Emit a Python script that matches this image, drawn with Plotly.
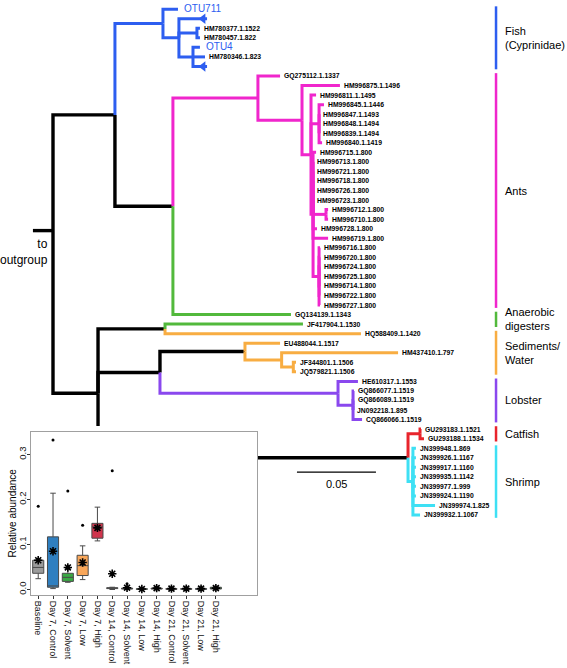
import plotly.graph_objects as go

# ---------------- tree data (depth = substitutions/site from root) ----------------
COLORS = {"k": "#000000", "f": "#2d5ef0", "a": "#f026cc", "g": "#52b93c",
          "o": "#f8ad42", "p": "#8a48ee", "r": "#e8242c", "c": "#3ee0f4"}


def node(d, c, *kids):
    return {"d": d, "c": c, "kids": list(kids)}


def tip(label, d, c, style="tip"):
    return {"d": d, "c": c, "label": label, "style": style, "kids": []}


fish_clade = node(0.0696, "f",
                  tip("OTU711", 0.0791, "f", "otu"),
                  node(0.0797, "f",
                       tip("", 0.0975, "f", "tri"),
                       node(0.0911, "f", tip("HM780377.1.1522", 0.0930, "f"),
                            tip("HM780457.1.822", 0.0930, "f")),
                       node(0.0886, "f", tip("OTU4", 0.0930, "f", "otu"),
                            tip("HM780346.1.823", 0.0962, "f"),
                            tip("", 0.0975, "f", "tri"))))

ants_clade = node(0.1297, "a",
                  tip("GQ275112.1.1337", 0.1437, "a"),
                  node(0.1576, "a",
                       tip("HM996875.1.1496", 0.1816, "a"),
                       node(0.1633, "a",
                            tip("HM996811.1.1495", 0.1665, "a"),
                            node(0.1684, "a",
                                 tip("HM996845.1.1446", 0.1715, "a"),
                                 tip("HM996847.1.1493", 0.1684, "a"),
                                 tip("HM996848.1.1494", 0.1684, "a"),
                                 tip("HM996839.1.1494", 0.1684, "a"),
                                 tip("HM996840.1.1419", 0.1703, "a")),
                            node(0.1646, "a",
                                 tip("HM996715.1.800", 0.1665, "a"),
                                 tip("HM996713.1.800", 0.1646, "a"),
                                 tip("HM996721.1.800", 0.1646, "a"),
                                 tip("HM996718.1.800", 0.1646, "a"),
                                 tip("HM996726.1.800", 0.1646, "a"),
                                 tip("HM996723.1.800", 0.1646, "a"),
                                 node(0.1728, "a", tip("HM996712.1.800", 0.1741, "a"),
                                      tip("HM996710.1.800", 0.1741, "a")),
                                 tip("HM996728.1.800", 0.1671, "a"),
                                 tip("HM996719.1.800", 0.1741, "a"),
                                 node(0.1684, "a",
                                      tip("HM996716.1.800", 0.1690, "a"),
                                      tip("HM996720.1.800", 0.1690, "a"),
                                      tip("HM996724.1.800", 0.1690, "a"),
                                      tip("HM996725.1.800", 0.1690, "a"),
                                      tip("HM996714.1.800", 0.1690, "a"),
                                      tip("HM996722.1.800", 0.1690, "a"),
                                      tip("HM996727.1.800", 0.1690, "a"))))))

anaerobic_tip = tip("GQ134139.1.1343", 0.1506, "g")

pair_clade = node(0.0709, "k", tip("JF417904.1.1530", 0.1582, "g"),
                  tip("HQ588409.1.1420", 0.1949, "o"))

sediment_clade = node(0.1215, "k",
                      tip("EU488044.1.1517", 0.1437, "o"),
                      node(0.1447, "o", tip("HM437410.1.797", 0.2184, "o"),
                           node(0.1521, "o", tip("JF344801.1.1506", 0.1538, "o"),
                                tip("JQ579821.1.1506", 0.1538, "o"))))

lobster_clade = node(0.1804, "p",
                     tip("HE610317.1.1553", 0.1930, "p"),
                     node(0.1899, "p", tip("GQ866077.1.1519", 0.1905, "p"),
                          tip("GQ866089.1.1519", 0.1905, "p"),
                          tip("JN092218.1.895", 0.1899, "p"),
                          tip("CQ866066.1.1519", 0.1956, "p")))

catfish_clade = node(0.2323, "r", tip("GU293183.1.1521", 0.2329, "r"),
                     tip("GU293188.1.1534", 0.2348, "r"))

shrimp_clade = node(0.2278, "c",
                    tip("JN399948.1.869", 0.2297, "c"),
                    tip("JN399926.1.1167", 0.2297, "c"),
                    tip("JN399917.1.1160", 0.2297, "c"),
                    tip("JN399935.1.1142", 0.2297, "c"),
                    tip("JN399977.1.999", 0.2297, "c"),
                    tip("JN399924.1.1190", 0.2297, "c"),
                    tip("JN399974.1.825", 0.2418, "c"),
                    tip("JN399932.1.1067", 0.2323, "c"))

upper = node(0.0392, "k", fish_clade, node(0.0759, "k", ants_clade, anaerobic_tip))
lower = node(0.0285, "k", pair_clade,
             node(0.0677, "k", sediment_clade, lobster_clade),
             node(0.2247, "k", catfish_clade, shrimp_clade))
root = node(0.0, "k", upper, lower)
outgroup_depth = -0.0127
outgroup_row = 23.2
scale_bar = 0.05

clade_names = ["Fish<br>(Cyprinidae)", "Ants", "Anaerobic<br>digesters",
               "Sediments/<br>Water", "Lobster", "Catfish", "Shrimp"]
clade_colors = ["f", "a", "g", "o", "p", "r", "c"]
clade_sizes = [7, 25, 2, 5, 5, 2, 8]

# ---------------- inset boxplot data ----------------
groups = ["Baseline", "Day 7, Control", "Day 7, Solvent", "Day 7, Low", "Day 7, High",
          "Day 14, Control", "Day 14, Solvent", "Day 14, Low", "Day 14, High",
          "Day 21, Control", "Day 21, Solvent", "Day 21, Low", "Day 21, High"]
box_colors = ["#9b9b9b", "#2f7fc0", "#3aa844", "#f9a75a", "#d0344c",
              "#9b9b9b", "#2f7fc0", "#3aa844", "#f9a75a", "#d0344c",
              "#9b9b9b", "#2f7fc0", "#3aa844"]
q1 = [0.036, 0.005, 0.018, 0.031, 0.114, 0.002, 0.001, 0.0005, 0.001, 0.0005, 0.0005, 0.0005, 0.001]
median = [0.049, 0.008, 0.027, 0.053, 0.139, 0.003, 0.002, 0.001, 0.002, 0.001, 0.001, 0.001, 0.002]
q3 = [0.065, 0.117, 0.036, 0.076, 0.147, 0.004, 0.003, 0.0015, 0.003, 0.002, 0.002, 0.002, 0.005]
whisk_lo = [0.024, 0.002, 0.016, 0.022, 0.108, 0.0, 0.0, 0.0, 0.0, 0.0, 0.0, 0.0, 0.0]
whisk_hi = [0.066, 0.214, 0.047, 0.097, 0.183, 0.005, 0.005, 0.002, 0.005, 0.003, 0.003, 0.003, 0.007]
means = [0.065, 0.085, 0.049, 0.060, 0.137, 0.035, 0.004, 0.001, 0.003, 0.002, 0.002, 0.002, 0.003]
outlier_groups = ["Baseline", "Day 7, Control", "Day 7, Solvent", "Day 7, Low",
                  "Day 14, Control", "Day 14, Solvent"]
outlier_values = [0.185, 0.332, 0.219, 0.143, 0.264, 0.013]

# ---------------- layout of the tree ----------------
counter = [0]
leaves = []


def place(n):
    if not n["kids"]:
        n["y"] = counter[0]
        counter[0] += 1
        leaves.append(n)
    else:
        for k in n["kids"]:
            place(k)
        n["y"] = (n["kids"][0]["y"] + n["kids"][-1]["y"]) / 2


place(root)

segs = {c: ([], []) for c in COLORS}


def collect(n):
    for k in n["kids"]:
        xs, ys = segs[k["c"]]
        xs += [n["d"], n["d"], k["d"], None]
        ys += [n["y"], k["y"], k["y"], None]
        collect(k)


collect(root)
segs["k"][0].extend([root["d"], outgroup_depth, None])
segs["k"][1].extend([outgroup_row, outgroup_row, None])

X_RANGE = [-0.033544, 0.325316]
Y_RANGE = [69.035, -0.964]
INSET_X = [0.0541, 0.4533]
INSET_Y = [0.1093, 0.3533]

fig = go.Figure()
for c, (xs, ys) in segs.items():
    if not xs:
        continue
    fig.add_trace(go.Scatter(x=xs, y=ys, mode="lines",
                             line=dict(color=COLORS[c], width=3.4 if c == "k" else 3),
                             hoverinfo="skip", showlegend=False))

tri = [l for l in leaves if l["style"] == "tri"]
fig.add_trace(go.Scatter(x=[l["d"] - 0.0025 for l in tri], y=[l["y"] for l in tri],
                         mode="markers",
                         marker=dict(symbol="triangle-left", size=9, color=COLORS["f"]),
                         hoverinfo="skip", showlegend=False))

# white backing of the inset panel (it sits on top of the tree)
mx0 = X_RANGE[0]
mx1 = X_RANGE[0] + (X_RANGE[1] - X_RANGE[0]) * INSET_X[1]
my_top = Y_RANGE[0] + (Y_RANGE[1] - Y_RANGE[0]) * (INSET_Y[1] + 0.009)
fig.add_trace(go.Scatter(x=[mx0, mx1, mx1, mx0, mx0],
                         y=[Y_RANGE[0], Y_RANGE[0], my_top, my_top, Y_RANGE[0]],
                         mode="lines", fill="toself", fillcolor="white",
                         line=dict(width=0, color="white"),
                         hoverinfo="skip", showlegend=False))

SANS = "Liberation Sans, Arial, Helvetica, sans-serif"
ann = []
for l in leaves:
    if not l["label"]:
        continue
    if l["style"] == "otu":
        ann.append(dict(x=l["d"], y=l["y"], text=l["label"], showarrow=False,
                        xanchor="left", yanchor="middle", xshift=4, yshift=1,
                        font=dict(family=SANS, size=10, color=COLORS["f"])))
    else:
        ann.append(dict(x=l["d"], y=l["y"], text=l["label"], showarrow=False,
                        xanchor="left", yanchor="middle", xshift=2,
                        font=dict(family=SANS, size=6.8, color="#000", weight="bold")))

# outgroup text
ann.append(dict(x=root["d"], y=outgroup_row, text="to<br>outgroup", showarrow=False,
                xanchor="right", yanchor="top", xshift=-3, yshift=-4, align="right",
                font=dict(family=SANS, size=12, color="#000")))

# scale bar
sb_x0, sb_row = 0.1544, 48.5
fig.add_trace(go.Scatter(x=[sb_x0, sb_x0 + scale_bar], y=[sb_row, sb_row], mode="lines",
                         line=dict(color="#000", width=1.2), hoverinfo="skip",
                         showlegend=False))
ann.append(dict(x=sb_x0 + scale_bar / 2, y=sb_row, text=str(scale_bar), showarrow=False,
                yanchor="top", yshift=-4, font=dict(family=SANS, size=11, color="#000")))

# clade bars
bar_x, lab_x = 0.2804, 0.2848
start = 0
for name, ck, size in zip(clade_names, clade_colors, clade_sizes):
    r0, r1 = start - 0.3, start + size - 1 + 0.3
    fig.add_trace(go.Scatter(x=[bar_x, bar_x], y=[r0, r1], mode="lines",
                             line=dict(color=COLORS[ck], width=2.5),
                             hoverinfo="skip", showlegend=False))
    ann.append(dict(x=lab_x, y=(r0 + r1) / 2, text=name, showarrow=False,
                    xanchor="left", yanchor="middle", align="left",
                    font=dict(family=SANS, size=11, color="#000")))
    start += size

# inset y title
ann.append(dict(xref="paper", yref="paper", x=12 / 567, y=sum(INSET_Y) / 2,
                text="Relative abundance", textangle=-90, showarrow=False,
                xanchor="center", yanchor="middle",
                font=dict(family=SANS, size=10, color="#000")))

# ---------------- inset boxplot ----------------
for i, g in enumerate(groups):
    fig.add_trace(go.Box(x=[g], q1=[q1[i]], median=[median[i]], q3=[q3[i]],
                         lowerfence=[whisk_lo[i]], upperfence=[whisk_hi[i]],
                         fillcolor=box_colors[i], line=dict(color="#4a4a4a", width=1),
                         width=0.75, boxpoints=False, xaxis="x2", yaxis="y2",
                         hoverinfo="skip", showlegend=False))
fig.add_trace(go.Scatter(x=outlier_groups, y=outlier_values, mode="markers",
                         marker=dict(color="#000", size=3), xaxis="x2", yaxis="y2",
                         hoverinfo="skip", showlegend=False))
fig.add_trace(go.Scatter(x=groups, y=means, mode="markers",
                         marker=dict(symbol="asterisk-open", size=7, color="#000",
                                     line=dict(color="#000", width=1.6)),
                         xaxis="x2", yaxis="y2", hoverinfo="skip", showlegend=False))

fig.update_layout(
    width=567, height=668, margin=dict(l=0, r=0, t=0, b=0, autoexpand=False),
    paper_bgcolor="white", plot_bgcolor="white",
    annotations=ann,
    xaxis=dict(domain=[0, 1], range=X_RANGE, visible=False,
               fixedrange=True, automargin=False),
    yaxis=dict(domain=[0, 1], range=Y_RANGE, visible=False,
               fixedrange=True, automargin=False),
    xaxis2=dict(domain=INSET_X, anchor="y2", type="category", automargin=False,
                categoryorder="array", categoryarray=groups, range=[-0.51, 14.78],
                tickangle=90, ticks="outside", ticklen=3, tickcolor="#333",
                showline=True, mirror=True, linecolor="#a0a0a0", linewidth=1,
                showgrid=False, fixedrange=True,
                tickfont=dict(family=SANS, size=9, color="#111")),
    yaxis2=dict(domain=INSET_Y, anchor="x2", range=[-0.0122, 0.35],
                automargin=False, fixedrange=True, ticklabelstandoff=-3,
                tickvals=[0, 0.1, 0.2, 0.3], ticktext=["0.0", "0.1", "0.2", "0.3"],
                tickangle=-90, ticks="outside", ticklen=3, tickcolor="#333",
                showline=True, mirror=True, linecolor="#a0a0a0", linewidth=1,
                showgrid=False, zeroline=False,
                tickfont=dict(family=SANS, size=9.5, color="#111")),
)

fig.write_html("out.html", config={"displayModeBar": False},
               post_script="document.body.style.margin='0';document.body.style.overflow='hidden';")
